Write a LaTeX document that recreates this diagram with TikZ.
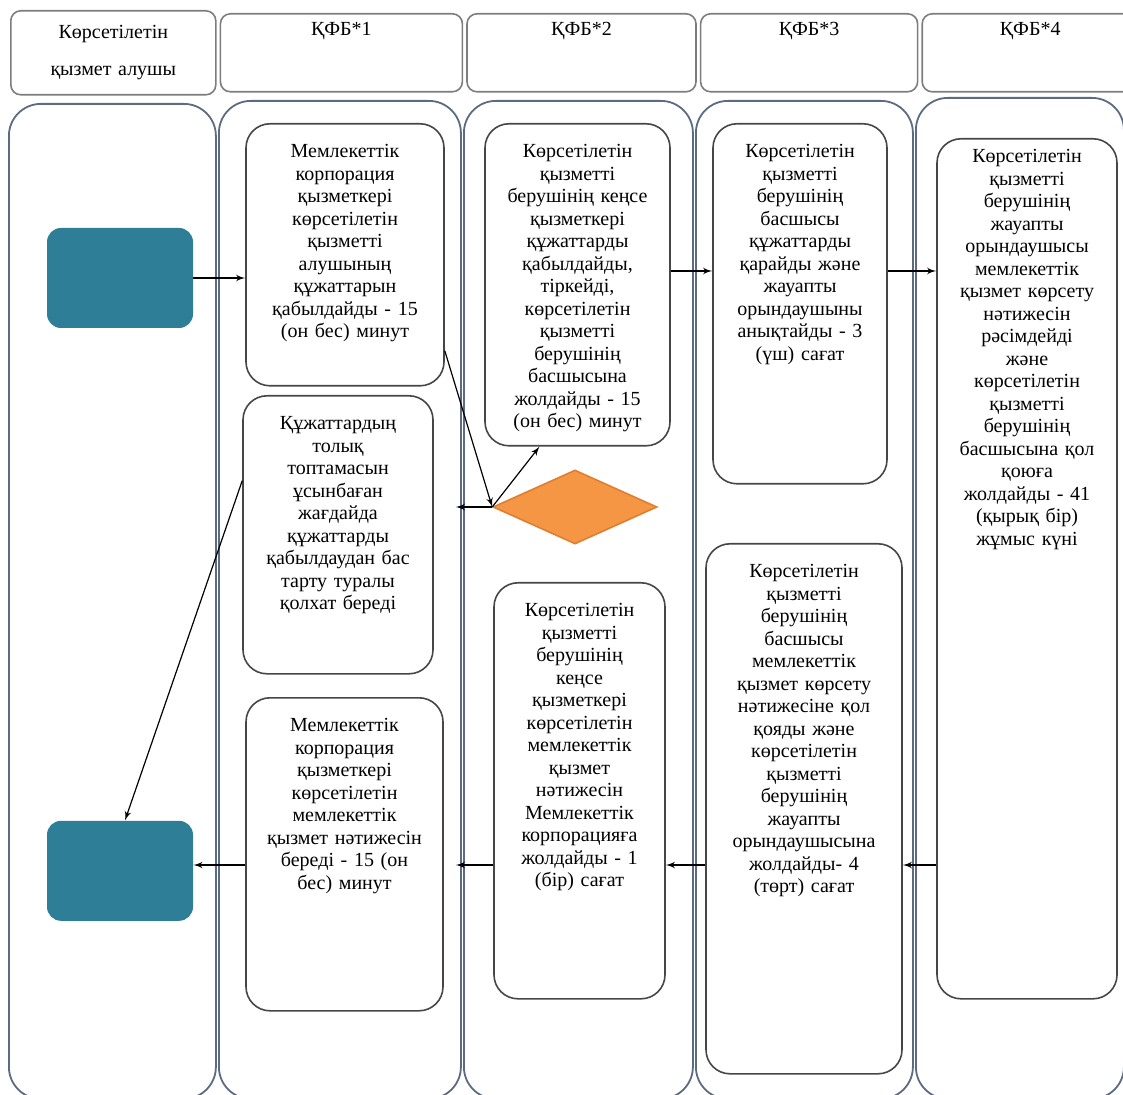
\documentclass[tikz,border=0pt]{standalone}
\usepackage{fontspec}
\setmainfont{Liberation Serif}
\usepackage{tikz}
\usetikzlibrary{shapes.geometric,arrows,positioning}

\definecolor{lanegray}{RGB}{92,106,130}
\definecolor{boxgray}{RGB}{70,70,70}
\definecolor{hdrgray}{RGB}{125,125,125}
\definecolor{tealfill}{RGB}{46,126,152}
\definecolor{orangefill}{RGB}{245,150,68}
\definecolor{orangeline}{RGB}{224,126,48}

\begin{document}
\begin{tikzpicture}[
    x=0.5pt, y=-0.5pt,
    font=\fontsize{10}{11.25}\selectfont,
    lane/.style={rectangle, draw=lanegray, line width=0.9pt, rounded corners=16pt, anchor=north west, inner sep=0pt},
    header/.style={rectangle, draw=hdrgray, line width=0.8pt, rounded corners=5pt, anchor=north west, align=center, inner xsep=2pt, inner ysep=4pt, text height=7pt, text depth=24pt},
    procbox/.style={rectangle, draw=boxgray, line width=0.8pt, fill=white, rounded corners=12pt, anchor=north, align=center, inner xsep=2pt, inner ysep=10pt, text height=7pt},
    client/.style={rectangle, fill=tealfill, rounded corners=7pt, minimum width=73pt, minimum height=50pt, inner sep=0pt},
    decision/.style={diamond, draw=orangeline, line width=0.8pt, fill=orangefill, minimum width=82pt, minimum height=37pt, inner sep=0pt},
    line/.style={draw, -latex', line width=0.6pt}
]
    \useasboundingbox (0,0) rectangle (1123,1095);

    % Lanes
    \node [lane, minimum width=103.5pt, minimum height=497.5pt] (lane0) at (8,103) {};
    \node [lane, minimum width=121pt, minimum height=499pt] (lane1) at (218,100) {};
    \node [lane, minimum width=114.5pt, minimum height=499pt] (lane2) at (463,100) {};
    \node [lane, minimum width=108.5pt, minimum height=499pt] (lane3) at (695,100) {};
    \node [lane, minimum width=104pt, minimum height=500.5pt] (lane4) at (915,97) {};

    % Headers
    \node [header, text width=98.5pt, inner ysep=7pt, text depth=21pt] (hdr0) at (10,10) {Көрсетілетін\\[7pt]қызмет алушы};
    \node [header, text width=117pt, right=1.5pt of hdr0] (hdr1) {ҚФБ*1};
    \node [header, text width=110.5pt, right=1.5pt of hdr1] (hdr2) {ҚФБ*2};
    \node [header, text width=104.5pt, right=1.5pt of hdr2] (hdr3) {ҚФБ*3};
    \node [header, text width=104pt, right=1.5pt of hdr3] (hdr4) {ҚФБ*4};

    % Service recipient
    \node [client] (in1) at (120,278) {};
    \node [client, below=246pt of in1] (out1) {};

    % ҚФБ*1
    \node [procbox, text width=95pt, text depth=104pt] (recv) at (345,123) {Мемлекеттік\\корпорация\\қызметкері\\көрсетілетін\\қызметті\\алушының\\құжаттарын\\қабылдайды - 15\\(он бес) минут};
    \node [procbox, text width=91pt, text depth=112pt] (refuse) at (338,395) {Құжаттардың\\толық\\топтамасын\\ұсынбаған\\жағдайда\\құжаттарды\\қабылдаудан бас\\тарту туралы\\қолхат береді};
    \node [procbox, text width=94.5pt, text depth=129.5pt] (issue) at (344.5,697) {Мемлекеттік\\корпорация\\қызметкері\\көрсетілетін\\мемлекеттік\\қызмет нәтижесін\\береді - 15 (он\\бес) минут};

    % ҚФБ*2
    \node [procbox, text width=88.5pt, text depth=134pt] (regB) at (577.5,123) {Көрсетілетін\\қызметті\\берушінің кеңсе\\қызметкері\\құжаттарды\\қабылдайды,\\тіркейді,\\көрсетілетін\\қызметті\\берушінің\\басшысына\\жолдайды - 15\\(он бес) минут};
    \node [decision] (dec) at (575,507) {};
    \node [procbox, text width=81.5pt, text depth=181pt] (send) at (579.5,582) {Көрсетілетін\\қызметті\\берушінің\\кеңсе\\қызметкері\\көрсетілетін\\мемлекеттік\\қызмет\\нәтижесін\\Мемлекеттік\\корпорацияға\\жолдайды - 1\\(бір) сағат};

    % ҚФБ*3
    \node [procbox, text width=83pt, text depth=153pt] (head) at (800,123) {Көрсетілетін\\қызметті\\берушінің\\басшысы\\құжаттарды\\қарайды және\\жауапты\\орындаушыны\\анықтайды - 3\\(үш) сағат};
    \node [procbox, text width=94pt, text depth=238pt] (sign) at (804,543) {Көрсетілетін\\қызметті\\берушінің\\басшысы\\мемлекеттік\\қызмет көрсету\\нәтижесіне қол\\қояды және\\көрсетілетін\\қызметті\\берушінің\\жауапты\\орындаушысына\\жолдайды- 4\\(төрт) сағат};

    % ҚФБ*4
    \node [procbox, text width=86pt, inner ysep=5pt, text depth=413pt] (exec) at (1027,138) {Көрсетілетін\\қызметті\\берушінің\\жауапты\\орындаушысы\\мемлекеттік\\қызмет көрсету\\нәтижесін\\рәсімдейді\\және\\көрсетілетін\\қызметті\\берушінің\\басшысына қол\\қоюға\\жолдайды - 41\\(қырық бір)\\жұмыс күні};

    % Flow
    \coordinate (row1) at (0,271);
    \coordinate (row2) at (0,865);
    \path [line] (in1.east) -- (in1.east -| recv.west);
    \path [line] ([yshift=-48pt]recv.east) -- (dec.west);
    \path [line] (dec.west) -- ([xshift=-19pt]regB.south);
    \path [line, shorten >=11pt] (dec.west) -- (dec.west -| refuse.east);
    \path [line] ([yshift=27pt]refuse.west) -- ([xshift=2.5pt]out1.north);
    \path [line] (regB.east |- row1) -- (head.west |- row1);
    \path [line] (head.east |- row1) -- (exec.west |- row1);
    \path [line] (exec.west |- row2) -- (sign.east |- row2);
    \path [line] (sign.west |- row2) -- (send.east |- row2);
    \path [line, shorten >=6pt] (send.west |- row2) -- (issue.east |- row2);
    \path [line] (issue.west |- row2) -- (out1.east |- row2);

\end{tikzpicture}
\end{document}
